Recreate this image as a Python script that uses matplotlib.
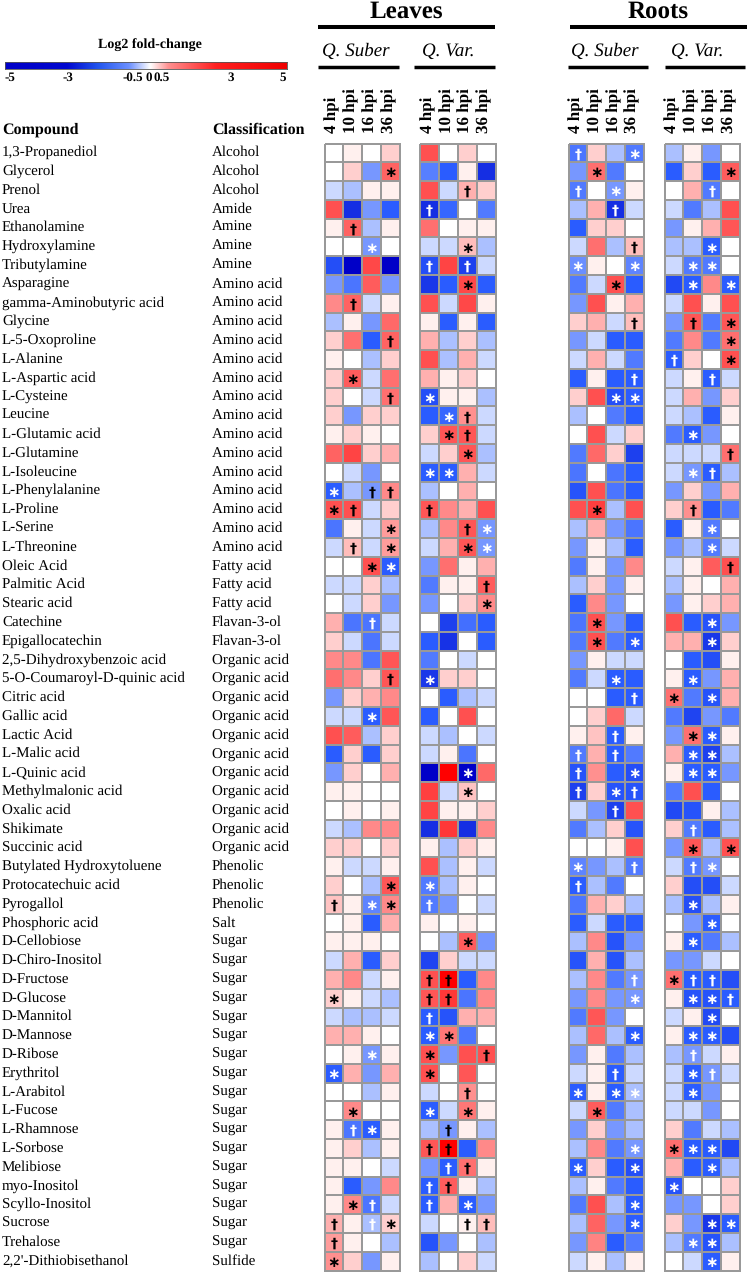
import numpy as np
from matplotlib import pyplot as plt
from matplotlib.colors import LinearSegmentedColormap, Normalize

compounds = ['1,3-Propanediol', 'Glycerol', 'Prenol', 'Urea', 'Ethanolamine', 'Hydroxylamine', 'Tributylamine',
             'Asparagine', 'gamma-Aminobutyric acid', 'Glycine', 'L-5-Oxoproline', 'L-Alanine', 'L-Aspartic acid',
             'L-Cysteine', 'Leucine', 'L-Glutamic acid', 'L-Glutamine', 'L-Isoleucine', 'L-Phenylalanine', 'L-Proline',
             'L-Serine', 'L-Threonine', 'Oleic Acid', 'Palmitic Acid', 'Stearic acid', 'Catechine', 'Epigallocatechin',
             '2,5-Dihydroxybenzoic acid', '5-O-Coumaroyl-D-quinic acid', 'Citric acid', 'Gallic acid', 'Lactic Acid',
             'L-Malic acid', 'L-Quinic acid', 'Methylmalonic acid', 'Oxalic acid', 'Shikimate', 'Succinic acid',
             'Butylated Hydroxytoluene', 'Protocatechuic acid', 'Pyrogallol', 'Phosphoric acid', 'D-Cellobiose',
             'D-Chiro-Inositol', 'D-Fructose', 'D-Glucose', 'D-Mannitol', 'D-Mannose', 'D-Ribose', 'Erythritol',
             'L-Arabitol', 'L-Fucose', 'L-Rhamnose', 'L-Sorbose', 'Melibiose', 'myo-Inositol', 'Scyllo-Inositol',
             'Sucrose', 'Trehalose', "2,2'-Dithiobisethanol"]
classes = ['Alcohol'] * 3 + ['Amide'] + ['Amine'] * 3 + ['Amino acid'] * 15 + ['Fatty acid'] * 3 + ['Flavan-3-ol'] * 2 \
    + ['Organic acid'] * 11 + ['Phenolic'] * 3 + ['Salt'] + ['Sugar'] * 17 + ['Sulfide']
hours = ['4 hpi', '10 hpi', '16 hpi', '36 hpi']
tickLabels = ['-5', '-3', '-0.5', '0', '0.5', '3', '5']

leavesSuber = [
    [0, .5, 0, 1], [0, 1, -1.8, 2.7], [-.5, -1, .5, .5], [3, -4, -1.8, -3], [.5, 2.7, -1, .5], [0, 0, -1.8, 0],
    [-3.3, -5, 3.2, -5], [-1.8, -2.5, 2.8, -1.8], [2.1, 2.7, -.5, .5], [-1, .5, -1.8, 2.6], [1, 2.5, -3, 2.7],
    [.5, 0, -1, 1], [1, 2.8, -.5, 2.5], [1, 0, -.5, 2.5], [1, -1.8, 1, 1], [.5, 1, .5, 0],
    [2.7, 3.3, 1, 1.5], [0, -.5, -1.8, 0], [-3, -1, -1.8, 2.1], [3, 3, -.5, 1], [-2.5, .5, -.5, 1.8],
    [-.5, 1.3, -.5, 1.8], [0, 0, 3, -3], [-.5, -.5, 1, -1], [0, -.5, 1, -1.8], [1.5, -2.5, -2.5, -.5],
    [1, -.5, -2.5, -.5], [2.1, 2.1, -2.5, 2.9], [2.5, 2.1, 1, 2.9], [-1.8, 1, 1.5, 2.1], [-.5, -.5, -3, 2.9],
    [3, 2.8, -1, 1], [-3, 1, -3, 1], [-1.8, 1, 0, 1.5], [.5, .5, 0, 0], [0, .5, 0, .5], [-.5, -1, 2.1, 2.1],
    [1, 1, 0, 1], [.5, -.5, -.5, .5], [1, 0, -1, 2.9], [1.2, .5, -2.2, 2.1], [0, .5, -3, 1.5], [.5, .5, .5, 0],
    [-.5, 1.5, -3, 1], [1.5, 2.1, -.5, .5], [1, .5, -.5, -1], [-.5, -1, -1, -.5], [1.5, 1.5, .5, 0],
    [0, .5, -1.8, .5], [-3, 1.5, -1.8, 1.5], [0, 0, -1, .5], [0, 2.1, 0, 0], [.5, -2.5, -3, .5], [.5, 1, -1, .5],
    [.5, .5, 0, -.5], [.5, -3, -1.8, 2.1], [.5, 2.1, -2.5, -.5], [1.5, .5, -1, 1], [1.8, .5, 0, -1], [2, 1, -1.8, .5],
]
leavesVar = [
    [3, 0, 1, 0], [-2.3, -3, .5, -4], [3, -.5, 1.5, 1], [-4, -2.8, 0, -2.4], [2.5, 0, .5, .5], [-.5, -.5, 1.3, -1],
    [-3.3, 3.3, -3.6, -.5], [-3.8, -3, 3.2, -3], [3, -.5, 3.2, .5], [.5, -3, .5, -3], [1.5, -1, 1, -1],
    [3, -1, 1.5, -.5], [1.5, .5, 1, 0], [-3.3, .5, .5, -1], [-3, -2.8, 2, -.5], [1, 2.9, 2.9, -.5],
    [-.5, 1, 2.9, -1], [-3, -3, 1.5, -.5], [-1, 0, 1.5, 0], [2.9, 2.1, 1.5, 3], [-1, 2.1, 2.9, -1.8],
    [-.5, 1.5, 2.9, -1.8], [-1.8, 2.5, .5, 1.5], [-2.4, .5, .5, 2.8], [-1.8, 0, 1, 2.1], [0, -3.6, -2.6, -3],
    [-3, -3.9, 0, -3], [-2.4, 0, -.5, 0], [-3.8, 1, 1, 0], [0, -3, -1, -.5], [-3, 0, 3, 0], [-.5, -1, 0, -.5],
    [-.5, .5, -2.5, 0], [-5, 5, -5, 2.6], [3.4, -.5, 1.2, 0], [3.3, .5, .5, 1], [-4, 3.6, -4, 2.1], [.5, -1, 1, .5],
    [3, -1, .5, -.5], [-2.4, -1, .5, 0], [-2.4, -1.8, 0, -.5], [.5, 0, .5, 0], [0, -1, 2.8, -1.8], [-3.5, 1, -.5, -.5],
    [3, 5, -3, 2.1], [2.9, 3.6, -2.5, 2.1], [-3, -3.2, 1.5, 1.5], [-3, 2.4, -2.5, 0], [3, -1.8, 3, 3], [3, 0, 2.9, 0],
    [-.5, 0, 2, 0], [-3, -.5, 2.4, .5], [-1, -1.8, .5, -1], [2.9, 5, -3, 2.1], [-1.8, -3, 2.5, .5], [-3, 2.8, .5, -1],
    [-3, 1.5, -3, -1.8], [-.5, 0, .5, 1.3], [-3.2, -1.8, 0, -1], [-1, 0, 1, -.5],
]
rootsSuber = [
    [-2.5, 1, -1, -2.4], [-1.8, 2.5, -2.4, 0], [-2.4, 0, -1.8, .5], [-1, 1.5, -4, -.5], [-3, 1, 1, 0],
    [-.5, 2.5, -1, 1.3], [-2, .5, 0, -2.2], [-2.4, -.5, 3, -3], [-1.8, 3, .5, 1.5], [1, 1.5, -.5, 1.3],
    [-1.8, -.5, -3, -3], [-.5, 1.5, -.5, -2.4], [-3, .5, -3, -3], [1, 3, -3.3, -3], [-1, 0, -2.4, -3], [0, 3, -.5, 1],
    [-2.4, 2.6, 1, -3.6], [-2.5, 0, -2.5, -3], [-3.2, 3, -2.5, -3], [3, 3.4, -1, 3], [-1, 1.5, -1.8, -2.5],
    [-1.8, .5, -1, -3], [-2.4, .5, -1.8, 2.1], [-1, 1, -1.8, .5], [-3, 2.1, -1.8, 0], [-2.5, 3, -1.8, -3],
    [-2.4, 3, -2.4, -3], [-1.8, .5, -.5, -.5], [-2.4, -.5, -3, -3], [0, 0, -3, -3], [0, 1, 2.6, -.5], [.5, 1.2, -3, .5],
    [-2.4, 1.5, -3, -2.4], [-3.2, 2, -3, -3.3], [-3.6, 1, -3.2, -3.2], [-.5, -1.8, -3.6, 3], [-2.4, -1, 1, -3.2],
    [0, 0, .5, 3], [-2.2, -1.8, -1, -2.4], [-3, -1, -2.4, 0], [-2.5, 1.5, 1, -1], [-3, -.5, -3, -3],
    [-1, 2.1, -3.2, -1.8], [-3.2, 1.5, -3.2, -1], [-1, 2.1, -2.4, -1.8], [-1.8, 2.1, -1.8, -1.8], [-2.4, 2.9, -1.8, 0],
    [-1, 2.6, -1, -3], [-1.8, .5, -2.4, -1], [-.5, .5, -3, -.5], [-3, .5, -3, -1], [-.5, 2.8, -2.4, -1],
    [-1.8, 1, -1.8, -1], [-1, 2.1, -2.4, -1.8], [-3, 1, -3, -3.3], [-1, .5, -2.4, -3], [-2.4, 3, -1, -3],
    [-1, 2.7, -1.8, -3], [-1.8, 2.2, -3, -2.4], [-.5, .5, -1, .5],
]
rootsVar = [
    [-1, .5, -1.8, 0], [-3, 1, -3, 2.8], [0, 1.5, -2.4, 0], [-.5, -2.4, -1, 3], [-1.8, .5, 1.5, 2.9], [-1, -1, -3, 0],
    [-.5, -2.4, -2.4, 0], [-3.4, -3, 2.1, -3], [-.5, 3, .5, 3], [-1.8, 2.9, -2.4, 2.9], [-2.4, 2.1, -2.4, 2.5],
    [-3, 1, 0, 3], [-.5, .5, -3, -.5], [-.5, 1.5, -1.8, 1], [-.5, -1, -3, .5], [-2.4, -3, -1.8, 0],
    [-.5, -.5, -.5, 2.5], [-.5, -1.8, -3, -1], [-1.8, 1, -1.8, 1.5], [1, 2, -3, -2.4], [-3, .5, -2.4, 0],
    [-1.8, -1, -2.4, -.5], [-.5, .5, 2.8, 3], [-1, .5, 0, 1.5], [-1.8, .5, 1, 1.5], [3, -3, -3.2, -1.8],
    [1.5, 1.5, -3.8, 1], [0, -3, -3.3, .5], [.5, -3, -1.8, 1.5], [2.5, -2.4, -3.2, 1.5], [-2.4, -3.5, -1.8, -2.4],
    [-1.8, 2.5, -3, .5], [1.5, -3, -3.6, -1], [.5, -3, -3, -1.8], [-2.4, 3, -3, 0], [-3.4, -3.2, .5, -1],
    [1, -2.4, -3, -1], [-1.8, 2.9, -1, 3], [-.5, -2.4, -1.8, 0], [1, -3.3, -3.3, -.5], [-1, -3.3, -1, .5],
    [0, -1.8, -3, 0], [.5, -3, -2.4, -1], [-1.8, -1.8, -.5, 0], [2.5, -3, -3, -3.3], [.5, -3.2, -3.2, -3],
    [-.5, .5, -3.4, 0], [.5, -3, -3, -3.3], [-1, -1.8, -.5, .5], [-.5, -3, -1.8, -.5], [-.5, -3, -1.8, 0],
    [-.5, -.5, -1.8, 0], [1, -2.4, -.5, -1], [2.5, -3, -3, -3.4], [1.5, -3, -3, -1], [-3.2, 0, 0, 1],
    [-1.8, -1.8, 0, 1], [1, -1.8, -3.8, -3], [-1, -2.4, -3.2, -1], [0, -.5, -3, .5],
]

# row number (from 1) -> one mark per column, s = asterisk, d = dagger, D = black dagger on blue
leavesSuberMarks = {2: '...s', 5: '.d..', 6: '..s.', 9: '.d..', 11: '...d', 13: '.s..', 14: '...d', 19: 's.Dd',
                    20: 'sd..', 21: '...s', 22: '.d.s', 23: '..ss', 26: '..d.', 29: '...d', 31: '..s.', 40: '...s',
                    41: 'd.ss', 46: 's...', 49: '..s.', 50: 's...', 52: '.s..', 53: '.ds.', 57: '.sd.', 58: 'd.ds',
                    59: 'd...', 60: 's...'}
leavesVarMarks = {3: '..d.', 4: 'd...', 6: '..s.', 7: 'd.d.', 8: '..s.', 14: 's...', 15: '.sd.', 16: '.sd.', 17: '..s.',
                  18: 'ss..', 20: 'd...', 21: '..ds', 22: '..ss', 24: '...d', 25: '...s', 29: 's...', 34: '..s.',
                  35: '..s.', 40: 's...', 41: 'd...', 43: '..s.', 45: 'dd..', 46: 'dd..', 47: 'd...', 48: 'ss..',
                  49: 's..d', 50: 's...', 51: '..d.', 52: 's.s.', 53: '.D..', 54: 'dd..', 55: '.dd.', 56: 'dd..',
                  57: 'd.s.', 58: '..dd'}
rootsSuberMarks = {1: 'd..s', 2: '.s..', 3: 'd.s.', 4: '..d.', 6: '...d', 7: 's..s', 8: '..s.', 10: '...d', 13: '...d',
                   14: '..ss', 20: '.s..', 26: '.s..', 27: '.s.s', 29: '..s.', 30: '...d', 32: '..d.', 33: 'd.d.',
                   34: 'd..s', 35: 'd.sd', 36: '..d.', 39: 's..d', 40: 'd...', 45: '...d', 46: '...s', 48: '...s',
                   50: '..d.', 51: 's.ss', 52: '.s..', 54: '...s', 55: 's..s', 57: '...s', 58: '...s'}
rootsVarMarks = {2: '...s', 3: '..d.', 6: '..s.', 7: '.ss.', 8: '.s.s', 10: '.d.s', 11: '...s', 12: 'd..s', 13: '..d.',
                 16: '.s..', 17: '...d', 18: '.sd.', 20: '.d..', 21: '..s.', 22: '..s.', 23: '...d', 26: '..s.',
                 27: '..s.', 29: '.s..', 30: 's.s.', 32: '.ss.', 33: '.ss.', 34: '.ss.', 37: '.d..', 38: '.s.s',
                 39: '.ds.', 41: '.s..', 42: '..s.', 43: '.s..', 45: 'sdd.', 46: '.ssd', 47: '..s.', 48: '.ss.',
                 49: '.d..', 50: '.sd.', 51: '.s..', 54: 'sss.', 55: '..s.', 56: 's...', 58: '..ss', 59: '.ss.',
                 60: '..s.'}

WIDTH, HEIGHT = 748, 1275
SERIF = 'Liberation Serif'

plt.rcParams['text.hinting'] = 'no_hinting'
plt.rcParams['text.hinting_factor'] = 1

stops = [(-5, '#0000c8'), (-3, '#2a5cff'), (-.5, '#ccd9ff'), (-.15, '#ffffff'), (.15, '#ffffff'), (.5, '#fff0ee'),
         (3, '#ff5050'), (5, '#ff0000')]
cmap = LinearSegmentedColormap.from_list('fold', [((v + 5) / 10, c) for v, c in stops], N=512)
norm = Normalize(-5, 5)
# the printed scale bar is not quite the same ramp as the cells
barCmap = LinearSegmentedColormap.from_list('bar', [(0, '#0000c8'), (.22, '#0008d0'), (.33, '#2255ee'), (.44, '#6c90ff'),
                                                    (.515, '#ffffff'), (.58, '#ff9090'), (.75, '#ff2020'), (1, '#f00000')])


def addAxes(fig, left, top, right, bottom):
    return fig.add_axes([left / WIDTH, 1 - bottom / HEIGHT, (right - left) / WIDTH, (bottom - top) / HEIGHT])


def drawPanel(fig, left, right, values, marks):
    top, bottom = 143.5, 1270.5
    ax = addAxes(fig, left, top, right, bottom)
    data = np.array(values)
    ax.pcolormesh(data, cmap=cmap, norm=norm, edgecolors='#999999', linewidth=1.4, clip_on=False)
    ax.set_xlim(0, 4)
    ax.set_ylim(len(values), 0)
    ax.axis('off')
    for row, rowMarks in marks.items():
        for col, mark in enumerate(rowMarks):
            if mark == '.':
                continue
            color = 'white' if data[row - 1, col] < 0 and mark != 'D' else 'black'
            glyph = '∗' if mark == 's' else '†'
            ax.text(col + .5, row - .5, glyph, color=color, ha='center', va='center_baseline',
                    fontsize=11 if mark == 's' else 10, fontweight='bold', family='DejaVu Sans')


def main():
    fig = plt.figure(figsize=(WIDTH / 100, HEIGHT / 100), dpi=100)
    page = fig.add_axes([0, 0, 1, 1])
    page.set_xlim(0, WIDTH)
    page.set_ylim(HEIGHT, 0)
    page.axis('off')

    drawPanel(fig, 324.5, 400, leavesSuber, leavesSuberMarks)
    drawPanel(fig, 420, 495.5, leavesVar, leavesVarMarks)
    drawPanel(fig, 568.5, 643.5, rootsSuber, rootsSuberMarks)
    drawPanel(fig, 664.5, 740, rootsVar, rootsVarMarks)

    # compound table
    page.text(2, 134, 'Compound', family=SERIF, fontweight='bold', fontsize=11.4)
    page.text(212, 134, 'Classification', family=SERIF, fontweight='bold', fontsize=11.3)
    for i, (name, cls) in enumerate(zip(compounds, classes)):
        y = 156 + i * 18.79
        page.text(2, y, name, family=SERIF, fontsize=11)
        page.text(212, y, cls, family=SERIF, fontsize=11)

    # group headers
    for label, x0, x1 in [('Leaves', 318, 495), ('Roots', 570, 747)]:
        page.text((x0 + x1) / 2, 18, label, family=SERIF, fontweight='bold', fontsize=18, ha='center')
        page.plot([x0, x1], [27.3, 27.3], color='black', lw=2.9, solid_capstyle='butt')
    for label, x0, x1, pad in [('Q. Suber', 318, 399, 4.5), ('Q. Var.', 414, 495, 8),
                               ('Q. Suber', 568, 648, 3), ('Q. Var.', 665, 745, 6)]:
        page.text(x0 + pad, 56, label, family=SERIF, style='italic', fontsize=14)
        page.plot([x0, x1], [66.8, 66.8], color='black', lw=2.5, solid_capstyle='butt')

    # hour labels
    for left, right in [(324.5, 400), (420, 495.5), (568.5, 643.5), (664.5, 740)]:
        for i, hour in enumerate(hours):
            x = left + (right - left) * (i + .5) / 4 - 1.5
            page.text(x, 133, hour, family=SERIF, fontweight='bold', fontsize=12, rotation=90,
                      ha='center', va='bottom')

    # colour scale
    bar = addAxes(fig, 5, 62, 287, 69)
    bar.imshow(np.linspace(0, 1, 512).reshape(1, -1), cmap=barCmap, aspect='auto')
    bar.set_xticks([])
    bar.set_yticks([])
    for spine in bar.spines.values():
        spine.set_linewidth(.6)
        spine.set_color('#555555')
    page.text(149.5, 48, 'Log2 fold-change', family=SERIF, fontweight='bold', fontsize=10.3, ha='center')
    for label, x in zip(tickLabels, [10, 68, 133, 148.5, 162, 231, 283]):
        page.text(x, 81, label, family=SERIF, fontweight='bold', fontsize=9.5, ha='center')

    fig.savefig('out.png', dpi=100)


if __name__ == '__main__':
    main()
